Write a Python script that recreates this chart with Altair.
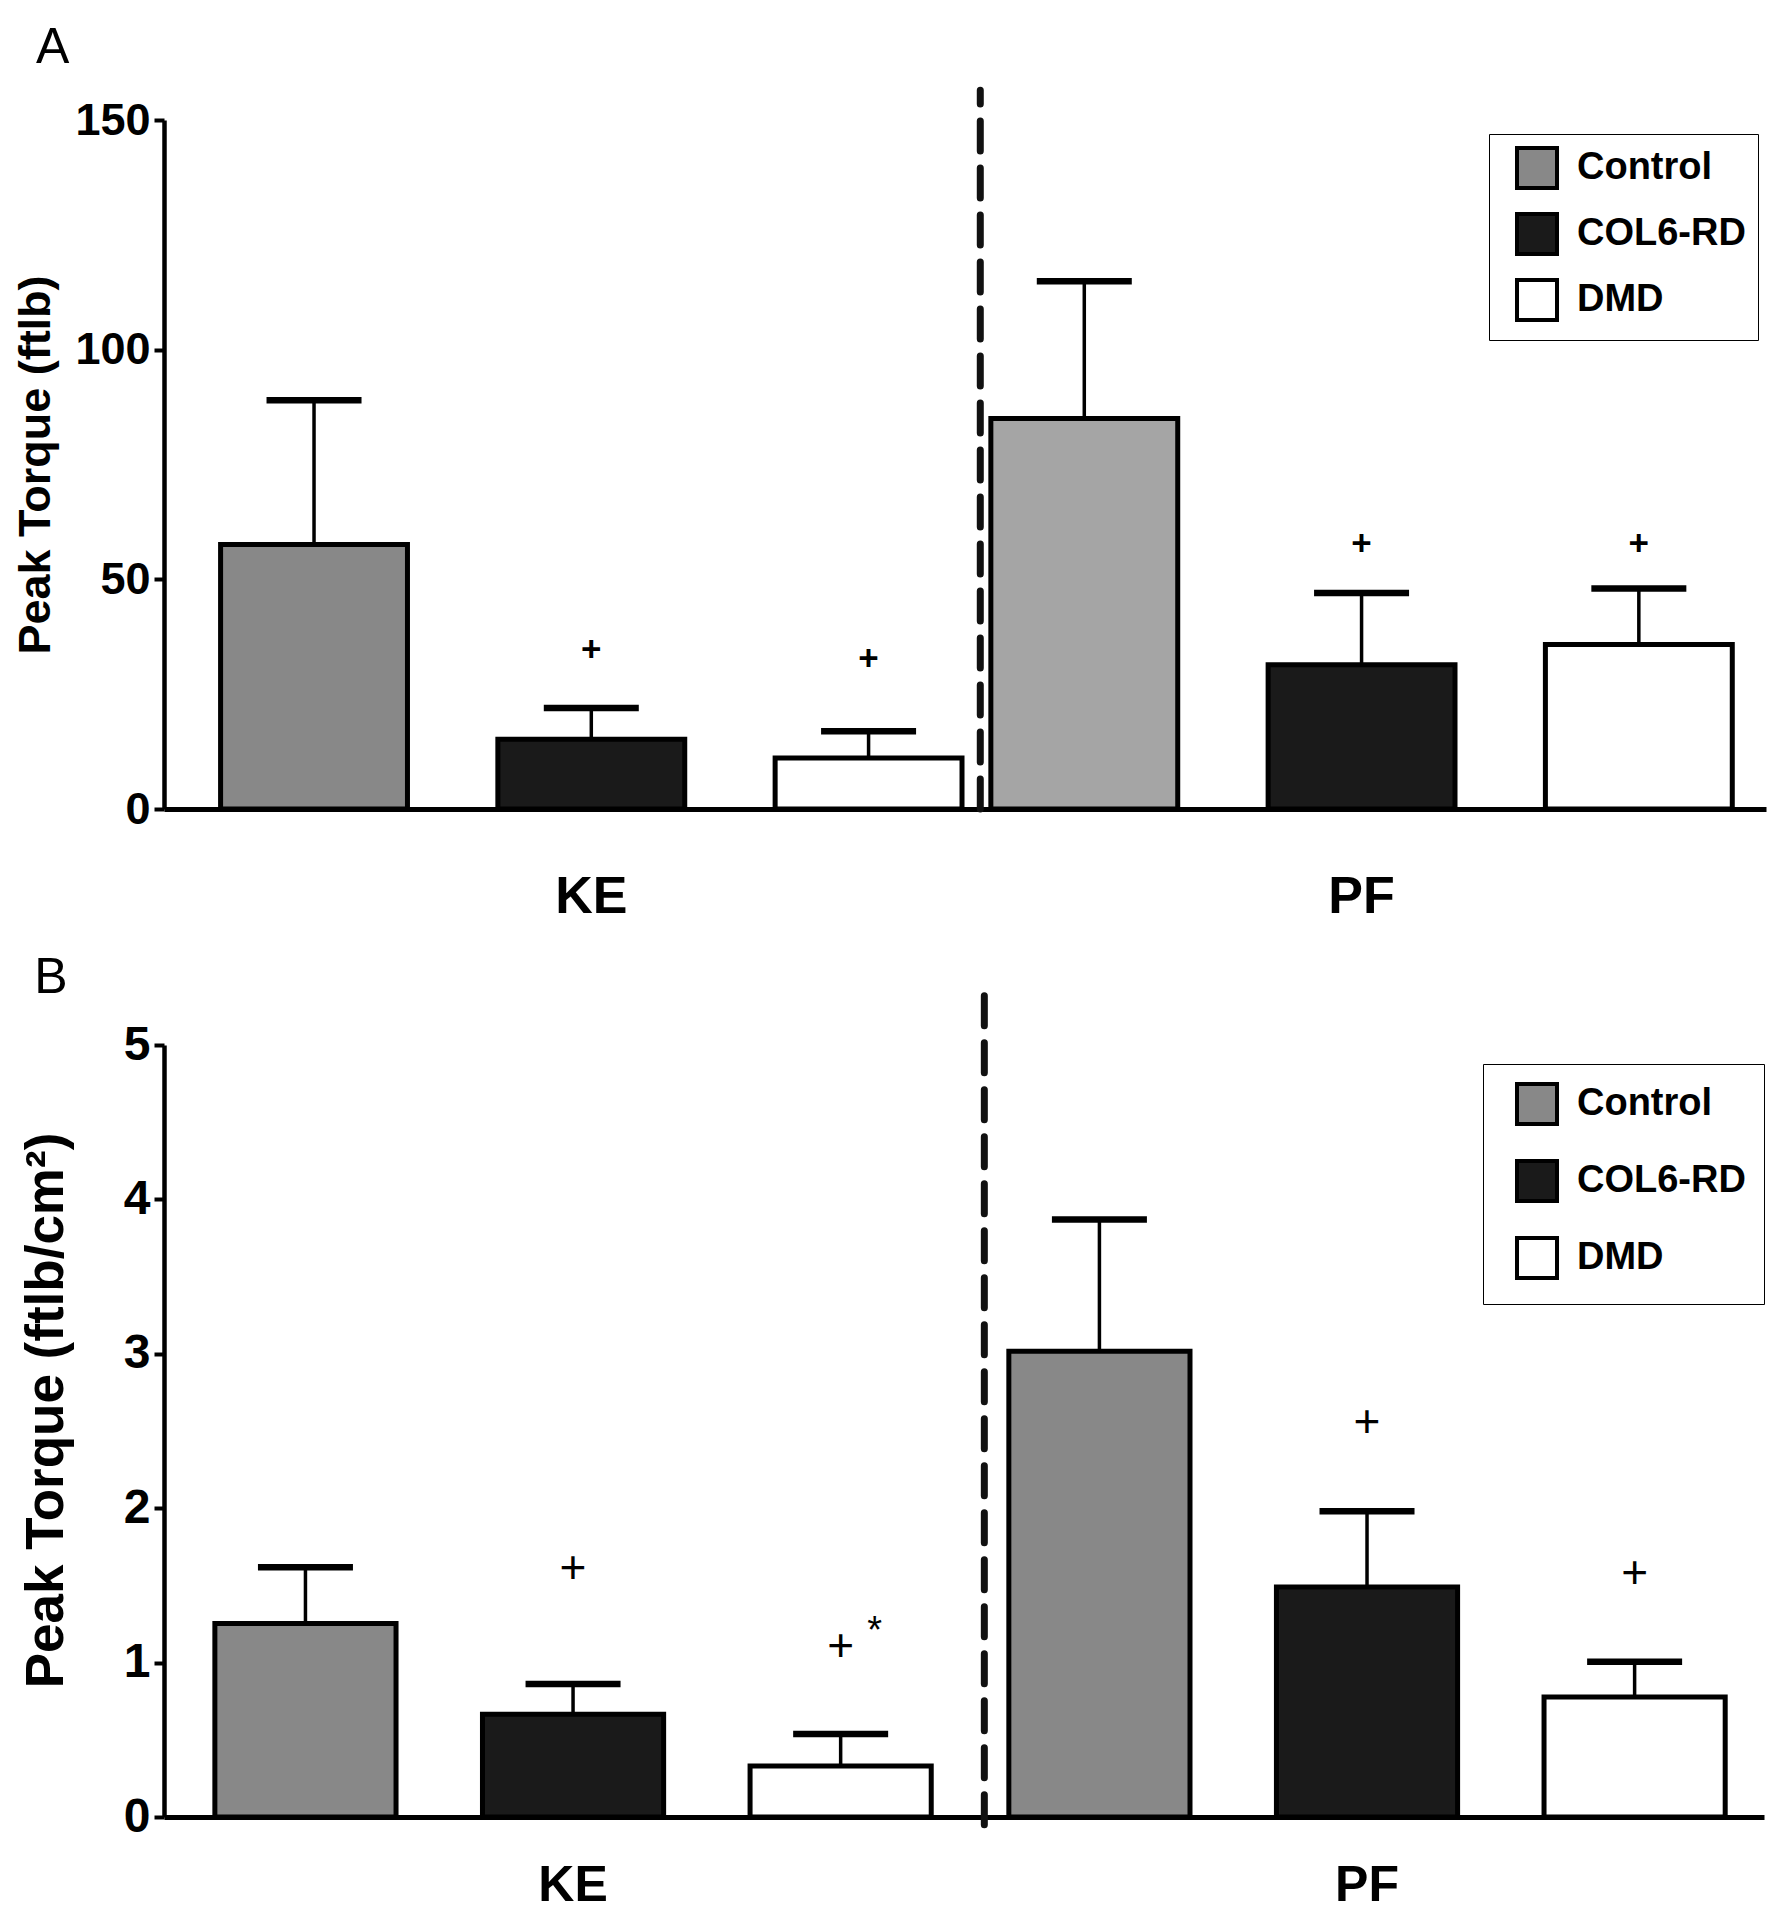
import altair as alt
import pandas as pd

# ---- data ----
muscles = ["KE", "KE", "KE", "PF", "PF", "PF"]
groups = ["Control", "COL6-RD", "DMD", "Control", "COL6-RD", "DMD"]
group_order = ["Control", "COL6-RD", "DMD"]
muscle_order = ["KE", "PF"]

# Panel A: peak torque (ftlb), mean and upper SD
a_mean = [57.6, 15.2, 11.1, 85.0, 31.4, 35.8]
a_sd = [31.4, 6.8, 5.8, 29.9, 15.6, 12.2]
a_sig = ["", "+", "+", "", "+", "+"]
a_sig_at = [None, 34.7, 32.7, None, 57.6, 57.6]
a_star = ["", "", "", "", "", ""]
a_ticks = [0, 50, 100, 150]

# Panel B: peak torque normalised (ftlb/cm2)
b_mean = [1.254, 0.666, 0.331, 3.016, 1.49, 0.778]
b_sd = [0.363, 0.195, 0.207, 0.854, 0.49, 0.227]
b_sig = ["", "+", "+", "", "+", "+"]
b_sig_at = [None, 1.604, 1.10, None, 2.55, 1.571]
b_star = ["", "", "*", "", "", ""]
b_ticks = [0, 1, 2, 3, 4, 5]

# extent of the dashed divider (data units)
a_divider = [0, 156.5]
b_divider = [-0.05, 5.35]

fills = ["#888888", "#1a1a1a", "#ffffff"]
FONT = "Liberation Sans"


def panel(mean, sd, sig, sig_at, star, ticks, divider, ytitle, letter,
          width, height, x_outer, x_align, off_inner, off_outer, div_pos,
          xlab_pad, xlab_size, ytitle_size, ytitle_pad, ytitle_y,
          ylab_size, sig_size, sig_weight,
          leg_x, leg_y, leg_pad, leg_row, pf_control_fill,
          title_dx, title_offset):
    df = pd.DataFrame({
        "muscle": muscles,
        "group": groups,
        "mean": mean,
        "upper": [m + s for m, s in zip(mean, sd)],
        "sig": sig,
        "sig_at": sig_at,
        "star": star,
    })
    ymax = ticks[-1]
    yscale = alt.Scale(domain=[0, ymax], nice=False, zero=True)
    xscale = alt.Scale(paddingInner=0, paddingOuter=x_outer, align=x_align)
    offscale = alt.Scale(paddingInner=off_inner, paddingOuter=off_outer)

    x = alt.X("muscle:N", sort=muscle_order, scale=xscale,
              axis=alt.Axis(title=None, labelAngle=0, ticks=False, grid=False,
                            domainColor="black", domainWidth=5,
                            labelFontSize=xlab_size, labelFontWeight="bold",
                            labelColor="black", labelPadding=xlab_pad,
                            labelFont=FONT))
    xo = alt.XOffset("group:N", sort=group_order, scale=offscale)

    base = alt.Chart(df)

    fill = alt.condition(
        "datum.muscle == 'PF' && datum.group == 'Control'",
        alt.value(pf_control_fill),
        alt.Fill("group:N", sort=group_order,
                 scale=alt.Scale(domain=group_order, range=fills),
                 legend=alt.Legend(
                     title=None, orient="none", legendX=leg_x, legendY=leg_y,
                     symbolType="square", symbolSize=1600,
                     symbolStrokeColor="black", symbolStrokeWidth=4,
                     symbolOffset=14, labelOffset=18,
                     labelFontSize=38, labelFontWeight="bold",
                     labelColor="black", labelFont=FONT, labelLimit=400,
                     strokeColor="black", fillColor="white",
                     padding=leg_pad, rowPadding=leg_row)),
    )

    yaxis_kw = dict(values=ticks, format="d", title=ytitle, grid=False,
                    domainColor="black", domainWidth=4.5,
                    tickColor="black", tickWidth=4, tickSize=10,
                    labelFontSize=ylab_size, labelFontWeight="bold",
                    labelColor="black", labelPadding=4, labelFont=FONT,
                    titleFontSize=ytitle_size, titleFontWeight="bold",
                    titleColor="black", titlePadding=ytitle_pad,
                    titleFont=FONT)
    if ytitle_y is not None:
        yaxis_kw["titleY"] = ytitle_y

    bars = base.mark_bar(stroke="black", strokeWidth=5).encode(
        x=x, xOffset=xo,
        y=alt.Y("mean:Q", scale=yscale, axis=alt.Axis(**yaxis_kw)),
        fill=fill,
    )

    stems = base.mark_rule(color="black", strokeWidth=3.5).encode(
        x=x, xOffset=xo,
        y=alt.Y("mean:Q", scale=yscale, title=ytitle),
        y2="upper:Q",
    )
    caps = base.mark_tick(color="black", thickness=6.5, size=95, opacity=1,
                          orient="horizontal").encode(
        x=x, xOffset=xo,
        y=alt.Y("upper:Q", scale=yscale, title=ytitle),
    )
    marks = base.transform_filter("datum.sig != ''").mark_text(
        fontSize=sig_size, fontWeight=sig_weight, font=FONT, color="black",
        baseline="middle", align="center").encode(
        x=x, xOffset=xo,
        y=alt.Y("sig_at:Q", scale=yscale, title=ytitle),
        text="sig:N",
    )
    stars = base.transform_filter("datum.star != ''").mark_text(
        fontSize=38, fontWeight="normal", font=FONT, color="black",
        baseline="middle", align="center", dx=34, dy=-15).encode(
        x=x, xOffset=xo,
        y=alt.Y("sig_at:Q", scale=yscale, title=ytitle),
        text="star:N",
    )

    div_df = pd.DataFrame({"muscle": ["PF"], "lo": [divider[0]],
                           "hi": [divider[1]]})
    divider_rule = alt.Chart(div_df).mark_rule(
        color="#111111", strokeWidth=7, strokeDash=[30, 17],
        strokeCap="round").encode(
        x=alt.X("muscle:N", sort=muscle_order, scale=xscale,
                bandPosition=div_pos),
        y=alt.Y("lo:Q", scale=yscale, title=ytitle),
        y2="hi:Q",
    )

    return alt.layer(bars, stems, caps, marks, stars, divider_rule).properties(
        width=width, height=height,
        title=alt.Title(letter, anchor="start", frame="bounds",
                        fontSize=50, fontWeight="normal", font=FONT,
                        color="black", dx=title_dx, offset=title_offset),
    )


panel_a = panel(a_mean, a_sd, a_sig, a_sig_at, a_star, a_ticks, a_divider,
                "Peak Torque (ftlb)", "A",
                width=1602, height=689, x_outer=0.0399, x_align=0.686,
                off_inner=0.326, off_outer=0.052, div_pos=0.005,
                xlab_pad=62, xlab_size=52,
                ytitle_size=45, ytitle_pad=16, ytitle_y=None, ylab_size=45,
                sig_size=35, sig_weight="bold",
                leg_x=1325, leg_y=14, leg_pad=12, leg_row=10,
                pf_control_fill="#a5a5a5", title_dx=22, title_offset=14)

panel_b = panel(b_mean, b_sd, b_sig, b_sig_at, b_star, b_ticks, b_divider,
                "Peak Torque (ftlb/cm²)", "B",
                width=1600, height=772, x_outer=0.0076, x_align=1.0,
                off_inner=0.323, off_outer=0.145, div_pos=0.018,
                xlab_pad=43, xlab_size=50,
                ytitle_size=53, ytitle_pad=50, ytitle_y=365, ylab_size=48,
                sig_size=46, sig_weight="normal",
                leg_x=1319, leg_y=19, leg_pad=18, leg_row=21,
                pf_control_fill="#888888", title_dx=14, title_offset=-16)

chart = alt.vconcat(panel_a, panel_b, spacing=31).resolve_scale(
    x="independent", xOffset="independent", y="independent",
    fill="independent").resolve_legend(fill="independent").properties(
    padding={"left": 5, "top": 14, "right": 3, "bottom": 0}
).configure(font=FONT).configure_view(stroke=None)

chart.save("out.html", embed_options={"renderer": "svg", "actions": False})
